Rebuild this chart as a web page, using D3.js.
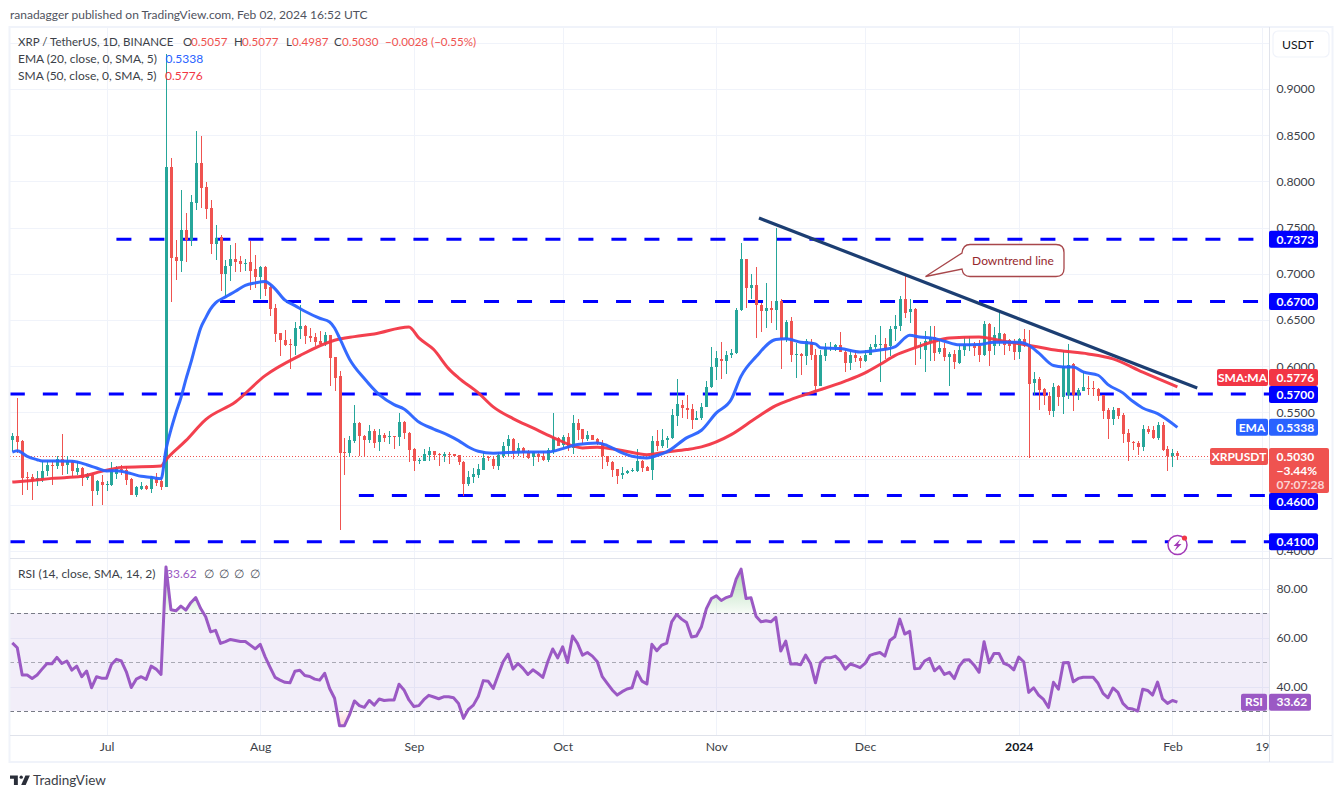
<!DOCTYPE html>
<html>
<head>
<meta charset="utf-8">
<title>XRP / TetherUS</title>
<script src="https://cdnjs.cloudflare.com/ajax/libs/d3/7.8.5/d3.min.js"></script>
<style>
  html, body { margin: 0; padding: 0; background: #fff; }
  svg { display: block; }
  text { font-family: Lato, "Open Sans", sans-serif; }
  .axis .domain { display: none; }
  .axis text { font-size: 12.2px; fill: #3c3f48; font-family: Lato, "Open Sans", sans-serif; }
</style>
</head>
<body>
<svg id="chart" width="1343" height="798"></svg>
<script>
// Daily candles, first one is 12 Jun 2023, last one is 2 Feb 2024
const firstDay = new Date(Date.UTC(2023, 5, 12));
const opens = [
  .5205,.5248,.5194,.4801,.4801,.4754,.4764,.4862,.4934,.4923,
  .4995,.4927,.4959,.4858,.4898,.4786,.4826,.4645,.4750,.4721,
  .4718,.4837,.4891,.4873,.4782,.4609,.4674,.4707,.4674,.4779,
  .4754,.4696,.8151,.7183,.7136,.7472,.7364,.7768,.8194,.7934,
  .7707,.7321,.7393,.7003,.7082,.7158,.7136,.7107,.7125,.7050,
  .6967,.7075,.6858,.6634,.6360,.6288,.6245,.6223,.6407,.6440,
  .6331,.6320,.6277,.6245,.6342,.6100,.5898,.5068,.5057,.5194,
  .5389,.5248,.5205,.5302,.5176,.5259,.5241,.5241,.5230,.5400,
  .5281,.5107,.4981,.4977,.5042,.5082,.5053,.5024,.5054,.5051,
  .5043,.4967,.4729,.4798,.4827,.4881,.5018,.5000,.4917,.5025,
  .5134,.5217,.5069,.5116,.5072,.5018,.5054,.5033,.4989,.5072,
  .5224,.5144,.5235,.5116,.5386,.5321,.5217,.5256,.5217,.5170,
  .5033,.4967,.4888,.4827,.4841,.4866,.4870,.4971,.4910,.4874,
  .5191,.5141,.5199,.5224,.5466,.5585,.5549,.5538,.5422,.5437,
  .5556,.5773,.5989,.6079,.6054,.6119,.6144,.6603,.7155,.6841,
  .6874,.6664,.6596,.6635,.6603,.6711,.6289,.6484,.6119,.6137,
  .6108,.6260,.6126,.5783,.6108,.6199,.6206,.6231,.6159,.6033,
  .6116,.6090,.6061,.6123,.6209,.6227,.6245,.6217,.6408,.6433,
  .6722,.6584,.6621,.6209,.6180,.6260,.6317,.6151,.6198,.6101,
  .6133,.6036,.6173,.6223,.6245,.6216,.6119,.6462,.6223,.6260,
  .6353,.6281,.6270,.6151,.6296,.6234,.5819,.5866,.5758,.5682,
  .5512,.5783,.5664,.5693,.6028,.5693,.5736,.5765,.5765,.5754,
  .5689,.5530,.5433,.5545,.5469,.5278,.5177,.5169,.5126,.5321,
  .5306,.5227,.5361,.5104,.5025,.5057];
const highs = [
  .5281,.5656,.5198,.4858,.4837,.4869,.4970,.4970,.4970,.5024,
  .5270,.5024,.4981,.4970,.4909,.4844,.4844,.4772,.4826,.4761,
  .4967,.4916,.4930,.4916,.4790,.4700,.4746,.4718,.4815,.4844,
  .4790,.9380,.8248,.7364,.7905,.7653,.7851,.8544,.8490,.7992,
  .7797,.7526,.7425,.7154,.7310,.7335,.7191,.7158,.7357,.7201,
  .7082,.7082,.6887,.6674,.6360,.6396,.6295,.6483,.6667,.6450,
  .6414,.6360,.6385,.6371,.6342,.6100,.5949,.5223,.5248,.5584,
  .5393,.5259,.5367,.5320,.5320,.5277,.5299,.5248,.5494,.5411,
  .5288,.5115,.5006,.5107,.5125,.5086,.5061,.5071,.5072,.5054,
  .5043,.4971,.4863,.4899,.4942,.5069,.5025,.5018,.5072,.5177,
  .5256,.5220,.5170,.5127,.5098,.5079,.5079,.5079,.5116,.5495,
  .5235,.5260,.5278,.5477,.5430,.5321,.5296,.5260,.5224,.5206,
  .5033,.4971,.4888,.4910,.4874,.4899,.5105,.4982,.4917,.5249,
  .5314,.5321,.5249,.5538,.5863,.5639,.5686,.5596,.5513,.5603,
  .5838,.6209,.6162,.6264,.6162,.6181,.6632,.7328,.7162,.6993,
  .7076,.6679,.6903,.6708,.7498,.6729,.6505,.6534,.6246,.6144,
  .6289,.6289,.6181,.6173,.6246,.6264,.6242,.6372,.6173,.6162,
  .6173,.6108,.6170,.6235,.6343,.6440,.6307,.6440,.6552,.6765,
  .7003,.6722,.6631,.6260,.6379,.6433,.6440,.6270,.6252,.6151,
  .6173,.6234,.6317,.6324,.6260,.6288,.6494,.6469,.6426,.6584,
  .6361,.6296,.6296,.6306,.6404,.6397,.5938,.5880,.5765,.5718,
  .5819,.5801,.6162,.6245,.6036,.5765,.5945,.5899,.5837,.5765,
  .5693,.5548,.5556,.5548,.5494,.5321,.5187,.5187,.5368,.5350,
  .5357,.5397,.5397,.5140,.5104,.5077];
const lows = [
  .5079,.5061,.4609,.4663,.4555,.4700,.4743,.4815,.4718,.4891,
  .4826,.4837,.4808,.4826,.4707,.4772,.4490,.4609,.4501,.4645,
  .4700,.4782,.4826,.4718,.4609,.4580,.4663,.4663,.4627,.4700,
  .4656,.4690,.6692,.6930,.7021,.7129,.7299,.7689,.7707,.7598,
  .7212,.7147,.6811,.6757,.6923,.7021,.7021,.7032,.6830,.6851,
  .6732,.6757,.6548,.6259,.6115,.6216,.5974,.6125,.6295,.6245,
  .6259,.6223,.6234,.6223,.5790,.5728,.4230,.4826,.5014,.5169,
  .5032,.5024,.5169,.5115,.5079,.5180,.5162,.5107,.5133,.5212,
  .4959,.4869,.4945,.4970,.4970,.4988,.4916,.4963,.4946,.5025,
  .4928,.4592,.4700,.4737,.4791,.4881,.4971,.4888,.4874,.5007,
  .5025,.4996,.5033,.5007,.4996,.4917,.4960,.4971,.4960,.5054,
  .5134,.5116,.5079,.5054,.5206,.5163,.5188,.5199,.5152,.4888,
  .4917,.4801,.4729,.4780,.4838,.4852,.4852,.4852,.4863,.4773,
  .5079,.5116,.5116,.5213,.5350,.5441,.5430,.5325,.5415,.5415,
  .5632,.5765,.5856,.5866,.5917,.6087,.6137,.6596,.6632,.6729,
  .6300,.6368,.6415,.6469,.6397,.5975,.6260,.6043,.5870,.5903,
  .6018,.6065,.5747,.5783,.6061,.6162,.6162,.6152,.5942,.5964,
  .6043,.5982,.6043,.6116,.6181,.5827,.6079,.6108,.6270,.6379,
  .6523,.6469,.6010,.6079,.5935,.6061,.6054,.6137,.6054,.5783,
  .5974,.6028,.6108,.6169,.6115,.6043,.6108,.6007,.6126,.6216,
  .6126,.6162,.6072,.6079,.6209,.5007,.5693,.5530,.5584,.5476,
  .5447,.5566,.5487,.5650,.5519,.5631,.5729,.5693,.5675,.5621,
  .5433,.5216,.5368,.5433,.5169,.4971,.5097,.5043,.5086,.5270,
  .5216,.5206,.5086,.4862,.4906,.4987];
const closes = [
  .5248,.5183,.4790,.4790,.4754,.4790,.4866,.4934,.4927,.4995,
  .4923,.4970,.4862,.4898,.4790,.4837,.4645,.4754,.4718,.4728,
  .4887,.4898,.4880,.4772,.4609,.4689,.4707,.4671,.4801,.4736,
  .4696,.8156,.7172,.7136,.7472,.7364,.7775,.8194,.7931,.7700,
  .7321,.7386,.7003,.7082,.7158,.7125,.7104,.7115,.7032,.6967,
  .7075,.6840,.6624,.6353,.6281,.6230,.6237,.6418,.6440,.6324,
  .6310,.6266,.6245,.6342,.6093,.5873,.5057,.5057,.5205,.5389,
  .5241,.5205,.5302,.5172,.5259,.5227,.5248,.5234,.5400,.5273,
  .5097,.4970,.4988,.5050,.5086,.5042,.5039,.5053,.5047,.5033,
  .4960,.4729,.4801,.4838,.4888,.5007,.5007,.4917,.5043,.5134,
  .5217,.5061,.5116,.5061,.5007,.5072,.5018,.4989,.5098,.5235,
  .5141,.5238,.5116,.5386,.5314,.5213,.5260,.5206,.5170,.5025,
  .4960,.4881,.4816,.4845,.4866,.4877,.4978,.4899,.4870,.5191,
  .5141,.5206,.5227,.5477,.5596,.5545,.5523,.5422,.5440,.5560,
  .5776,.5993,.6090,.6054,.6123,.6144,.6610,.7155,.6845,.6874,
  .6657,.6596,.6635,.6603,.6711,.6289,.6480,.6119,.6137,.6108,
  .6271,.6119,.5783,.6116,.6206,.6213,.6231,.6152,.6033,.6116,
  .6087,.6061,.6126,.6209,.6235,.6245,.6191,.6404,.6440,.6729,
  .6577,.6621,.6209,.6223,.6270,.6317,.6144,.6198,.6097,.6137,
  .6043,.6180,.6245,.6245,.6198,.6119,.6458,.6162,.6342,.6361,
  .6227,.6223,.6151,.6299,.6223,.5812,.5866,.5747,.5675,.5512,
  .5776,.5664,.6007,.6018,.5693,.5747,.5772,.5758,.5754,.5682,
  .5512,.5433,.5530,.5458,.5270,.5177,.5169,.5126,.5325,.5285,
  .5227,.5361,.5097,.5025,.5061,.5030];

// EMA 20 at these candle numbers
const emaDays = [0,1,3,5,6,9,12,15,17,19,21,24,26,28,30,31,32,33,34,35,36,37,38,39,40,41,43,45,47,49,51,52,53,55,57,59,62,64,65,66,68,71,74,77,79,82,85,88,90,92,94,97,103,108,111,114,118,120,123,125,128,130,132,136,139,142,145,147,150,154,156,159,162,163,167,171,175,178,181,183,186,188,191,195,198,203,205,207,210,212,214,216,219,221,224,226,228,231,235];
const emaValues = [.5071,.5086,.5024,.4988,.4974,.4974,.4970,.4934,.4898,.4866,.4869,.4837,.4808,.4797,.4782,.5097,.5313,.5494,.5656,.5855,.6035,.6234,.6414,.6523,.6620,.6685,.6750,.6811,.6876,.6902,.6916,.6887,.6837,.6714,.6656,.6595,.6519,.6479,.6414,.6306,.6079,.5866,.5692,.5584,.5537,.5396,.5320,.5252,.5195,.5126,.5079,.5058,.5072,.5072,.5108,.5152,.5170,.5141,.5061,.5025,.5007,.5033,.5072,.5224,.5307,.5495,.5639,.5892,.6101,.6289,.6296,.6260,.6242,.6199,.6191,.6155,.6175,.6209,.6335,.6317,.6299,.6270,.6231,.6234,.6260,.6260,.6227,.6144,.6007,.5992,.5992,.5938,.5902,.5801,.5711,.5620,.5548,.5487,.5338];

// SMA 50
const smaDays = [0,4,8,14,18,22,30,31,35,39,45,51,58,65,69,73,80,82,85,88,90,94,97,101,105,109,115,118,123,128,132,136,139,145,150,154,157,161,168,172,175,178,182,186,189,195,200,205,211,217,222,228,235];
const smaValues = [.4746,.4764,.4786,.4808,.4862,.4905,.4920,.4988,.5194,.5422,.5613,.5898,.6115,.6281,.6320,.6349,.6425,.6306,.6180,.5974,.5874,.5711,.5560,.5433,.5332,.5231,.5116,.5123,.5087,.5043,.5072,.5098,.5127,.5260,.5440,.5574,.5639,.5711,.5838,.5928,.6018,.6115,.6198,.6270,.6306,.6317,.6270,.6227,.6169,.6133,.6079,.5935,.5776];

// RSI 14, one value per candle
const rsiValues = [
  57.8,55.8,44.7,44.7,43.3,44.7,47.1,49.4,49.3,51.9,49.4,50.4,46.7,48.3,44.0,46.3,39.5,44.0,43.4,43.4,
  49.0,51.1,50.4,46.0,39.6,43.0,44.0,42.9,48.3,47.1,44.9,88.8,71.3,70.9,72.8,71.2,74.2,76.3,71.8,68.5,
  62.3,62.9,57.6,58.3,59.2,58.8,58.4,58.4,56.9,55.4,57.2,52.1,47.8,43.7,42.6,41.7,41.5,46.2,46.6,44.5,
  44.1,43.0,42.6,45.4,39.2,35.2,24.0,24.0,28.4,34.1,32.2,31.5,34.3,32.4,34.9,34.3,34.5,34.5,40.9,38.6,
  34.5,31.8,32.2,34.6,36.4,35.7,35.0,35.8,35.8,35.4,33.1,27.0,30.7,32.4,36.0,42.4,42.1,39.2,44.7,50.1,
  53.2,47.1,49.4,47.4,44.9,46.8,45.4,43.7,50.1,55.3,51.7,56.2,49.8,60.6,57.6,52.8,53.9,52.4,50.1,44.0,
  41.3,38.6,36.5,37.9,39.0,39.5,46.0,42.2,41.0,57.2,54.6,56.9,57.7,66.4,69.4,67.5,66.1,60.2,60.6,64.4,
  71.8,75.9,77.0,75.1,76.3,77.0,83.8,87.9,75.9,76.2,68.7,66.4,66.8,66.4,68.2,54.5,58.5,49.2,49.3,48.9,
  52.8,49.4,41.5,49.8,51.7,51.7,52.4,50.4,47.1,49.2,48.5,47.7,49.4,52.7,53.4,53.9,52.4,58.8,60.3,67.5,
  61.4,62.5,47.2,47.4,50.4,51.5,46.4,48.1,44.9,45.8,43.2,48.3,50.8,50.9,48.7,45.8,58.3,49.7,53.5,53.5,
  49.4,48.6,46.8,52.0,50.1,37.6,39.5,36.5,34.7,31.4,41.7,38.9,49.7,49.8,41.9,43.3,43.8,43.8,43.8,41.3,
  37.2,35.4,39.4,37.6,33.1,31.1,30.8,30.0,38.9,38.4,36.5,41.8,34.9,33.1,34.3,33.62];

// Drawn levels and the trend line
const levelPrices = [0.7373, 0.67, 0.57, 0.46, 0.41];
const levelStartDays = [21, 41.9, -0.5, 69.9, -0.5];
const levelEndDays = [250.4, 251.3, 253.5, 253.5, 253.5];
const trendDays = [150.6, 239];
const trendPrices = [0.7604, 0.5764];

const priceTicks = [0.9, 0.85, 0.8, 0.75, 0.7, 0.65, 0.6, 0.55, 0.4];
const priceGrid = [0.95, 0.9, 0.85, 0.8, 0.75, 0.7, 0.65, 0.6, 0.55, 0.5, 0.45, 0.4];
const rsiTicks = [80, 60, 40];
const timeTickDates = ["2023-07-01", "2023-08-01", "2023-09-01", "2023-10-01", "2023-11-01", "2023-12-01", "2024-01-01", "2024-02-01", "2024-02-19"];
const timeTickLabels = ["Jul", "Aug", "Sep", "Oct", "Nov", "Dec", "2024", "Feb", "19"];

// Colours
const upColor = "#26a69a", downColor = "#ef5350";
const emaColor = "#2962ff", smaColor = "#f23645", levelColor = "#0000ff";
const trendColor = "#1c3e72", rsiColor = "#9b59c4";
const gridColor = "#f0f3fa", borderColor = "#e0e3eb";

// Pane layout
const paneLeft = 10, paneRight = 1269.5, paneTop = 27, priceBottom = 558.5, rsiBottom = 735.5, timeBottom = 762;

const svg = d3.select("#chart");
const defs = svg.append("defs");

const dayDate = i => new Date(firstDay.getTime() + i * 86400000);
const x = d3.scaleUtc()
  .domain([dayDate(0), dayDate(252)])
  .range([12.3, 1261.7]);
const xDay = i => x(dayDate(i));
const y = d3.scaleLinear().domain([0.9, 0.4]).range([89, 551]);
const yRsi = d3.scaleLinear().domain([80, 40]).range([588.5, 686.5]);

// Clip regions for the panes
defs.append("clipPath").attr("id", "priceClip").append("rect")
  .attr("x", paneLeft).attr("y", paneTop).attr("width", paneRight - paneLeft).attr("height", priceBottom - paneTop);
defs.append("clipPath").attr("id", "rsiClip").append("rect")
  .attr("x", paneLeft).attr("y", priceBottom).attr("width", paneRight - paneLeft).attr("height", rsiBottom - priceBottom);
defs.append("clipPath").attr("id", "overClip").append("rect")
  .attr("x", paneLeft).attr("y", priceBottom).attr("width", paneRight - paneLeft).attr("height", yRsi(70) - priceBottom);
defs.append("clipPath").attr("id", "underClip").append("rect")
  .attr("x", paneLeft).attr("y", yRsi(30)).attr("width", paneRight - paneLeft).attr("height", rsiBottom - yRsi(30));

const overGrad = defs.append("linearGradient").attr("id", "overGrad").attr("x1", 0).attr("x2", 0).attr("y1", 0).attr("y2", 1);
overGrad.append("stop").attr("offset", "0%").attr("stop-color", "#4caf50").attr("stop-opacity", 0.45);
overGrad.append("stop").attr("offset", "100%").attr("stop-color", "#4caf50").attr("stop-opacity", 0.05);
const underGrad = defs.append("linearGradient").attr("id", "underGrad").attr("x1", 0).attr("x2", 0).attr("y1", 0).attr("y2", 1);
underGrad.append("stop").attr("offset", "0%").attr("stop-color", "#ff5252").attr("stop-opacity", 0.03);
underGrad.append("stop").attr("offset", "100%").attr("stop-color", "#ff5252").attr("stop-opacity", 0.25);

// Grid
const grid = svg.append("g").attr("stroke", gridColor).attr("stroke-width", 1);
priceGrid.forEach(p => {
  const py = Math.round(y(p)) + 0.5;
  grid.append("line").attr("x1", paneLeft).attr("x2", paneRight).attr("y1", py).attr("y2", py);
});
rsiTicks.forEach(r => {
  const py = Math.round(yRsi(r)) + 0.5;
  grid.append("line").attr("x1", paneLeft).attr("x2", paneRight).attr("y1", py).attr("y2", py);
});
timeTickDates.forEach(d => {
  const px = Math.round(x(new Date(d))) + 0.5;
  grid.append("line").attr("x1", px).attr("x2", px).attr("y1", paneTop).attr("y2", rsiBottom);
});

// RSI band
svg.append("rect")
  .attr("x", paneLeft).attr("width", paneRight - paneLeft)
  .attr("y", yRsi(70)).attr("height", yRsi(30) - yRsi(70))
  .attr("fill", "#7e57c2").attr("fill-opacity", 0.1);
[70, 50, 30].forEach(r => {
  svg.append("line")
    .attr("x1", paneLeft).attr("x2", paneRight)
    .attr("y1", Math.round(yRsi(r)) + 0.5).attr("y2", Math.round(yRsi(r)) + 0.5)
    .attr("stroke", "#787b86")
    .attr("stroke-opacity", r === 50 ? 0.6 : 1)
    .attr("stroke-dasharray", "4 3");
});

// Price pane
const pricePane = svg.append("g").attr("clip-path", "url(#priceClip)");

levelPrices.forEach((p, i) => {
  pricePane.append("line")
    .attr("x1", xDay(levelStartDays[i])).attr("x2", xDay(levelEndDays[i]))
    .attr("y1", y(p)).attr("y2", y(p))
    .attr("stroke", levelColor).attr("stroke-width", 3)
    .attr("stroke-dasharray", "15 18");
});

// last price line
pricePane.append("line")
  .attr("x1", paneLeft).attr("x2", 1210)
  .attr("y1", Math.round(y(closes[235])) + 0.5).attr("y2", Math.round(y(closes[235])) + 0.5)
  .attr("stroke", downColor).attr("stroke-dasharray", "1 2");

// candles
const candles = pricePane.append("g").attr("shape-rendering", "crispEdges");
opens.forEach((o, i) => {
  const c = closes[i];
  const col = c >= o ? upColor : downColor;
  const cx = Math.round(xDay(i));
  candles.append("rect")
    .attr("x", cx).attr("width", 1)
    .attr("y", y(highs[i])).attr("height", y(lows[i]) - y(highs[i]))
    .attr("fill", col);
  const top = y(Math.max(o, c));
  candles.append("rect")
    .attr("x", cx - 1).attr("width", 3)
    .attr("y", top).attr("height", Math.max(1, y(Math.min(o, c)) - top))
    .attr("fill", col);
});

// moving averages
const line = d3.line().x(d => xDay(d[0])).y(d => y(d[1]));
const smoothLine = d3.line().x(d => xDay(d[0])).y(d => y(d[1])).curve(d3.curveMonotoneX);
pricePane.append("path")
  .attr("d", smoothLine(smaDays.map((d, i) => [d, smaValues[i]])))
  .attr("fill", "none").attr("stroke", smaColor).attr("stroke-width", 3).attr("stroke-linejoin", "round").attr("stroke-opacity", 0.95);
pricePane.append("path")
  .attr("d", smoothLine(emaDays.map((d, i) => [d, emaValues[i]])))
  .attr("fill", "none").attr("stroke", emaColor).attr("stroke-width", 3).attr("stroke-linejoin", "round").attr("stroke-opacity", 0.95);

// trend line
pricePane.append("path")
  .attr("d", line(trendDays.map((d, i) => [d, trendPrices[i]])))
  .attr("fill", "none").attr("stroke", trendColor).attr("stroke-width", 3.2);

// callout
svg.append("path")
  .attr("d", "M970,244.5 H1056 Q1064,244.5 1064,252.5 V268.5 Q1064,276.5 1056,276.5 H970 Q963,276.5 962,269 L925.5,276.5 L962,253 Q963,244.5 970,244.5 Z")
  .attr("fill", "#fff").attr("stroke", "#a8474b").attr("stroke-width", 1.3);
svg.append("text")
  .attr("x", 1013).attr("y", 264.5).attr("text-anchor", "middle")
  .attr("font-size", 12).attr("fill", "#96282d").text("Downtrend line");

// RSI pane
const rsiPane = svg.append("g").attr("clip-path", "url(#rsiClip)");
const rsiArea = d3.area().x((d, i) => xDay(i)).y1(d => yRsi(d));
const overPane = rsiPane.append("g").attr("clip-path", "url(#overClip)");
overPane.append("path").attr("d", rsiArea.y0(yRsi(70))(rsiValues.map(v => Math.max(v, 70)))).attr("fill", "url(#overGrad)");
const underPane = rsiPane.append("g").attr("clip-path", "url(#underClip)");
underPane.append("path").attr("d", rsiArea.y0(yRsi(30))(rsiValues.map(v => Math.min(v, 30)))).attr("fill", "url(#underGrad)");
rsiPane.append("path")
  .attr("d", d3.line().x((d, i) => xDay(i)).y(d => yRsi(d))(rsiValues))
  .attr("fill", "none").attr("stroke", rsiColor).attr("stroke-width", 3).attr("stroke-linejoin", "round");

// Frame and separators
svg.append("rect")
  .attr("x", 9.5).attr("y", 27).attr("width", 1323).attr("height", timeBottom - 27)
  .attr("fill", "none").attr("stroke", gridColor).attr("stroke-width", 2);
[priceBottom, rsiBottom].forEach(py => {
  svg.append("line").attr("x1", paneLeft).attr("x2", 1332).attr("y1", py).attr("y2", py).attr("stroke", borderColor);
});
svg.append("line").attr("x1", paneRight).attr("x2", paneRight).attr("y1", paneTop).attr("y2", timeBottom).attr("stroke", borderColor);

// Axes
svg.append("g").attr("class", "axis")
  .attr("transform", `translate(${paneRight},0)`)
  .call(d3.axisRight(y).tickValues(priceTicks).tickSize(0).tickPadding(7).tickFormat(d3.format(".4f")));
svg.append("g").attr("class", "axis")
  .attr("transform", `translate(${paneRight},0)`)
  .call(d3.axisRight(yRsi).tickValues(rsiTicks).tickSize(0).tickPadding(7).tickFormat(d3.format(".2f")));
const timeAxis = svg.append("g").attr("class", "axis")
  .attr("transform", `translate(0,${rsiBottom})`)
  .call(d3.axisBottom(x)
    .tickValues(timeTickDates.map(d => new Date(d)))
    .tickSize(0).tickPadding(7)
    .tickFormat((d, i) => timeTickLabels[i]));
timeAxis.selectAll("text").filter(d => d.getUTCFullYear() === 2024 && d.getUTCMonth() === 0)
  .style("font-weight", 700).style("fill", "#131722");

// Price tags on the right axis
function tag(px, py, w, h, fill, label, tx) {
  svg.append("rect")
    .attr("x", px).attr("y", py).attr("width", w).attr("height", h)
    .attr("rx", 2).attr("fill", fill);
  svg.append("text")
    .attr("x", tx === undefined ? px + w / 2 : tx)
    .attr("y", py + h / 2 + 4.2)
    .attr("text-anchor", tx === undefined ? "middle" : "start")
    .attr("font-size", 12).attr("font-weight", 700).attr("fill", "#fff")
    .text(label);
}
const valueX = 1276.5;
tag(1269, y(0.7373) - 8.5, 49, 17, levelColor, "0.7373", valueX);
tag(1269, y(0.67) - 8.5, 49, 17, levelColor, "0.6700", valueX);
// the two tags around 0.57 are pushed apart so they do not cover each other
tag(1217, 369, 51, 17, smaColor, "SMA:MA");
tag(1269, 369, 49, 17, smaColor, "0.5776", valueX);
tag(1269, 386, 49, 17, levelColor, "0.5700", valueX);
tag(1236, y(0.5338) - 8.5, 32, 17, emaColor, "EMA");
tag(1269, y(0.5338) - 8.5, 49, 17, emaColor, "0.5338", valueX);
tag(1269, 493, 49, 17, levelColor, "0.4600", valueX);
tag(1269, y(0.41) - 8.5, 49, 17, levelColor, "0.4100", valueX);

tag(1210, 448, 58, 17, downColor, "XRPUSDT");
svg.append("rect").attr("x", 1269).attr("y", 448).attr("width", 60).attr("height", 45).attr("rx", 2).attr("fill", downColor);
[["0.5030", 461, 1], ["\u22123.44%", 475, 1], ["07:07:28", 489, 0.75]].forEach(t => {
  svg.append("text").attr("x", valueX).attr("y", t[1])
    .attr("font-size", 12).attr("font-weight", 700).attr("fill", "#fff").attr("fill-opacity", t[2]).text(t[0]);
});

tag(1241, yRsi(33.62) - 8.5, 26, 17, rsiColor, "RSI");
tag(1269, yRsi(33.62) - 8.5, 42, 17, rsiColor, "33.62", valueX);

// USDT button
svg.append("rect").attr("x", 1273).attr("y", 31).attr("width", 56).attr("height", 26).attr("rx", 5)
  .attr("fill", "#fff").attr("stroke", gridColor).attr("stroke-width", 1.2);
svg.append("text").attr("x", 1282).attr("y", 49).attr("font-size", 12.2).attr("fill", "#131722").text("USDT");

// Legend
const legendColor = "#3c3f48";
function legend(px, py, label, col, size) {
  svg.append("text").attr("x", px).attr("y", py).attr("font-size", size || 12).attr("fill", col || legendColor).text(label);
}
legend(10, 19, "ranadagger published on TradingView.com, Feb 02, 2024 16:52 UTC", "#50535e");
legend(18, 46, "XRP / TetherUS, 1D, BINANCE", legendColor, 11.5);
legend(183, 46, "O", legendColor, 11.5); legend(191, 46, "0.5057", downColor, 11.6);
legend(234, 46, "H", legendColor, 11.5); legend(242, 46, "0.5077", downColor, 11.6);
legend(286, 46, "L", legendColor, 11.5); legend(292, 46, "0.4987", downColor, 11.6);
legend(334, 46, "C", legendColor, 11.5); legend(342, 46, "0.5030", downColor, 11.6);
legend(385, 46, "\u22120.0028 (\u22120.55%)", downColor, 11.6);
legend(18, 63, "EMA (20, close, 0, SMA, 5)");
legend(165.5, 63, "0.5338", emaColor);
legend(18, 80, "SMA (50, close, 0, SMA, 5)");
legend(165, 80, "0.5776", smaColor);
legend(18, 578, "RSI (14, close, SMA, 14, 2)");
legend(166, 578, "33.62", rsiColor);
[204, 219, 234, 250].forEach(px => legend(px, 578, "\u2205", "#50535e"));

// Lightning badge near the last candle
const badge = svg.append("g").attr("transform", "translate(1177.5,545)");
badge.append("circle").attr("r", 9.5).attr("fill", "#fff").attr("stroke", "#a33bb8").attr("stroke-width", 1.5);
badge.append("path").attr("d", "M3,-6 L-4,1 L-0.5,1 L-3,6 L4,-1 L0.5,-1 Z").attr("fill", "#a33bb8");
badge.append("circle").attr("cx", 7).attr("cy", -7).attr("r", 2.6).attr("fill", "#f23645");

// TradingView logo
const logo = svg.append("g").attr("transform", "translate(10,775.5) scale(0.56)").attr("fill", "#2a2e39");
logo.append("path").attr("d", "M14 0H0v6h7v11h7V0Z");
logo.append("circle").attr("cx", 20).attr("cy", 3).attr("r", 3);
logo.append("path").attr("d", "M28 17h-8l7.5-17h8L28 17Z");
svg.append("text").attr("x", 33).attr("y", 785).attr("font-size", 13.5).attr("fill", "#3c3f48").text("TradingView");
</script>
</body>
</html>
